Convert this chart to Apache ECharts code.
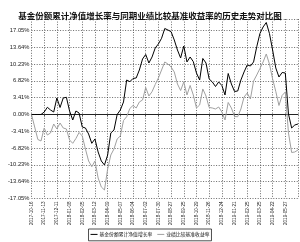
<!DOCTYPE html>
<html><head><meta charset="utf-8">
<script src="https://cdn.jsdelivr.net/npm/echarts@6/dist/echarts.min.js"></script>
<style>html,body{margin:0;padding:0;background:#fff}#c{width:300px;height:242px}</style>
</head><body><div id="c"></div>
<script>
var tickLabels = ["2017-10-16","2017-11-13","2017-12-11","2018-01-08","2018-02-05","2018-03-12","2018-04-09","2018-05-07","2018-06-04","2018-07-02","2018-07-30","2018-08-27","2018-09-25","2018-10-29","2018-11-26","2018-12-24","2019-01-21","2019-02-25","2019-03-25","2019-04-22","2019-05-27"];
var fundSeries = [0,0,0,0,0.5,1.46,0.91,0.5,3.35,1.42,3.35,3.49,0.71,-1.12,0.71,0.3,-2.54,-2.74,-3.96,-5.85,-4.97,-7.61,-9.44,-10.25,-8.22,-3.75,-3.15,0,0.91,2.54,7.0,6.66,7.31,7.41,9.03,11.26,12.18,10.45,11.67,13.5,14.31,15.47,17.45,17.15,16.8,15.12,13.09,11.47,13.9,10.66,11.67,10.72,8.42,7.0,11.37,10.45,7.21,6.6,5.68,6.6,5.89,3.96,8.32,6.19,4.67,4.77,7.0,8.63,10.05,9.84,10.66,13.76,16.44,17.76,18.67,16.44,13.09,9.44,7.61,8.52,8.42,0.1,-2.74,-2.13,-1.93];
var benchSeries = [0,-2.54,-5.07,-5.38,-2.74,-4.16,-3.75,-1.93,-2.94,-1.73,-2.74,-2.94,-5.18,-5.85,-4.87,-3.65,-4.36,-7.0,-9.44,-10.59,-9.44,-12.89,-14.71,-15.32,-11.06,-8.22,-7.0,-4.97,-4.36,-1.22,-0.45,1.22,1.83,1.32,2.54,2.94,5.48,3.75,4.63,6.09,7.41,9.03,10.66,10.25,9.64,8.63,6.19,4.87,6.6,3.96,5.89,3.96,1.32,1.93,5.18,3.75,1.42,1.32,1.12,1.52,0.51,-1.12,2.44,1.32,-0.41,-0.45,1.12,3.55,4.36,3.14,6.8,8.02,9.34,10.66,12.28,10.25,7.21,4.67,1.83,3.86,4.57,-3.75,-7.71,-7.61,-7.2];
var seriesNames = ["基金份额累计净值增长率","业绩比较基准收益率"];
var titleText = "基金份额累计净值增长率与同期业绩比较基准收益率的历史走势对比图";
var STEP = 4;

var cats = fundSeries.map(function(_, i){ return String(i); });
function isTick(i){ return i % STEP === 0 && i / STEP < tickLabels.length; }
var chart = echarts.init(document.getElementById('c'), null, {renderer:'canvas'});
chart.setOption({
  animation: false,
  title: {text: titleText, left: 'center', top: 7, textStyle: {fontFamily: 'Noto Sans CJK SC', fontSize: 8.5, fontWeight: 'bold', color: '#111'}},
  legend: {
    data: seriesNames, top: 229, left: 'center', orient: 'horizontal',
    itemWidth: 7, itemHeight: 1, itemGap: 5, padding: [3, 2, 4, 2],
    borderColor: '#222', borderWidth: 0.8,
    icon: 'rect',
    textStyle: {fontFamily: 'Noto Sans CJK SC', fontSize: 4.8, color: '#111', padding: [0,0,0,-3]}
  },
  grid: {left: 31.5, right: 2, top: 19, bottom: 43.5, containLabel: false},
  xAxis: {
    type: 'category', data: cats, boundaryGap: false,
    axisLine: {show: true, lineStyle: {color: '#222', width: 1.2}},
    axisTick: {show: true, length: 2, interval: function(i){ return isTick(i); }, lineStyle: {color: '#444'}},
    axisLabel: {interval: function(i){ return isTick(i); }, rotate: 90, fontSize: 4.6, margin: 3, color: '#222', fontFamily: 'Liberation Sans',
      formatter: function(v, i){ return isTick(i) ? tickLabels[i / STEP] : ''; }},
    splitLine: {show: true, interval: function(i){ return isTick(i) || i === cats.length - 1; }, lineStyle: {type: [1, 1.6], color: '#444', width: 0.8}}
  },
  yAxis: {
    type: 'value', min: -17.05, max: 19.38, interval: 3.41,
    axisLine: {show: false}, axisTick: {show: false},
    axisLabel: {showMaxLabel: false, fontSize: 5.8, color: '#222', margin: 2, fontFamily: 'Liberation Sans',
      formatter: function(v){ if (Math.abs(v) < 0.005) v = 0; return v.toFixed(2) + '%'; }},
    splitLine: {show: true, lineStyle: {type: [1, 1.6], color: '#444', width: 0.8}}
  },
  series: [
    {name: seriesNames[0], type: 'line', data: fundSeries, symbol: 'none', lineStyle: {color: '#000', width: 1}, itemStyle: {color: '#000'}},
    {name: seriesNames[1], type: 'line', data: benchSeries, symbol: 'none', lineStyle: {color: '#a0a0a0', width: 1}, itemStyle: {color: '#a0a0a0'}}
  ]
});
</script></body></html>
